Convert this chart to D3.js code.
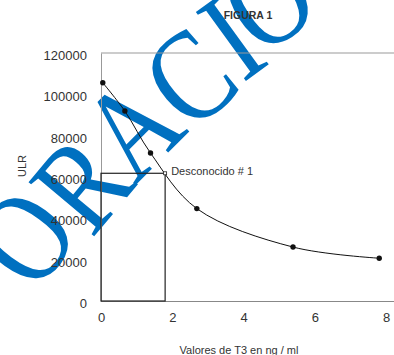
<!DOCTYPE html>
<html>
<head>
<meta charset="utf-8">
<script src="https://cdn.jsdelivr.net/npm/d3@7/dist/d3.min.js"></script>
<style>
  html, body { margin: 0; padding: 0; background: #fff; }
  svg { display: block; font-family: "Liberation Sans", Arial, sans-serif; }
</style>
</head>
<body>
<div id="chart"></div>
<script>
// datos
const tValues = [0.05, 0.67, 1.39, 2.69, 5.39, 7.81];       // T3 ng/ml
const ulrValues = [105600, 91900, 71600, 44700, 26100, 20700];
const unknownT = 1.8;
const unknownULR = 61800;
const unknownLabel = "Desconocido # 1";
const xTicks = [0, 2, 4, 6, 8];
const yTicks = [0, 20000, 40000, 60000, 80000, 100000, 120000];
const title = "FIGURA 1";
const xTitle = "Valores de T3 en ng / ml";
const yTitle = "ULR";

// marca de agua: letra, centro y giro
const wmLetters = ["O", "R", "A", "C", "I", "O"];
const wmPos = [[25, 238], [82, 184], [132, 128], [190, 78], [232, 38], [268, 0]];
const wmRot = [-54, -50, -45, -40, -36, -33];

const width = 394, height = 355;
const plot = { left: 101, top: 53, bottom: 301, right: 386 };

const svg = d3.select("#chart").append("svg")
  .attr("width", width)
  .attr("height", height);

svg.append("rect").attr("width", width).attr("height", height).attr("fill", "#fff");

// marca de agua (detras del grafico)
svg.append("g")
  .selectAll("text")
  .data(wmLetters)
  .enter().append("text")
  .attr("transform", (d, i) => `translate(${wmPos[i][0]},${wmPos[i][1]}) rotate(${wmRot[i]}) scale(0.83,1)`)
  .attr("text-anchor", "middle")
  .attr("dy", "0.33em")
  .attr("font-family", "'Liberation Serif', 'Times New Roman', serif")
  .attr("font-size", 130)
  .attr("fill", "#0070C0")
  .text(d => d);

const x = d3.scaleLinear().domain([0, 8]).range([plot.left, plot.right]);
const y = d3.scaleLinear().domain([0, 120000]).range([plot.bottom, plot.top]);

// marco
svg.append("line")
  .attr("x1", plot.left).attr("x2", width + 5)
  .attr("y1", plot.top).attr("y2", plot.top)
  .attr("stroke", "#999").attr("stroke-width", 1);

const yAxis = svg.append("g")
  .attr("transform", `translate(${plot.left},0)`)
  .call(d3.axisLeft(y).tickValues(yTicks).tickSize(0).tickPadding(14).tickFormat(d3.format("d")));
yAxis.select(".domain").attr("stroke", "#999");
yAxis.selectAll("text").attr("font-size", 13).attr("fill", "#333").attr("dy", "0.5em")
  .attr("font-family", "'Liberation Sans', Arial, sans-serif");

const xAxis = svg.append("g")
  .attr("transform", `translate(0,${plot.bottom})`)
  .call(d3.axisBottom(x).tickValues(xTicks).tickSize(0).tickPadding(12).tickFormat(d3.format("d")));
xAxis.select(".domain").attr("stroke", "#888").attr("d", `M${plot.left},0.5H${width + 5}`);
xAxis.selectAll("text").attr("font-size", 13).attr("fill", "#333")
  .attr("font-family", "'Liberation Sans', Arial, sans-serif");

// rectangulo del desconocido
svg.append("rect")
  .attr("x", x(0))
  .attr("y", y(unknownULR))
  .attr("width", x(unknownT) - x(0))
  .attr("height", y(0) - y(unknownULR))
  .attr("fill", "none")
  .attr("stroke", "#222")
  .attr("stroke-width", 1.2);

// curva suavizada
const line = d3.line()
  .x((d, i) => x(tValues[i]))
  .y(d => y(d))
  .curve(d3.curveCatmullRom);

svg.append("path")
  .datum(ulrValues)
  .attr("d", line)
  .attr("fill", "none")
  .attr("stroke", "#111")
  .attr("stroke-width", 1);

svg.selectAll(".pt")
  .data(ulrValues)
  .enter().append("circle")
  .attr("class", "pt")
  .attr("cx", (d, i) => x(tValues[i]))
  .attr("cy", d => y(d))
  .attr("r", 2.7)
  .attr("fill", "#111");

svg.append("rect")
  .attr("x", x(unknownT) - 1.5)
  .attr("y", y(unknownULR) - 1.5)
  .attr("width", 3).attr("height", 3)
  .attr("fill", "#fff").attr("stroke", "#222").attr("stroke-width", 0.8);

svg.append("text")
  .attr("x", x(unknownT) + 6)
  .attr("y", y(unknownULR))
  .attr("dy", "0.14em")
  .attr("font-size", 11)
  .attr("fill", "#333")
  .text(unknownLabel);

// titulos
svg.append("text")
  .attr("x", 248).attr("y", 19)
  .attr("text-anchor", "middle")
  .attr("font-size", 10.5).attr("font-weight", "bold")
  .attr("fill", "#333")
  .text(title);

svg.append("text")
  .attr("x", 239).attr("y", 354)
  .attr("text-anchor", "middle")
  .attr("font-size", 11)
  .attr("fill", "#333")
  .text(xTitle);

svg.append("text")
  .attr("transform", "translate(26,166) rotate(-90)")
  .attr("text-anchor", "middle")
  .attr("font-size", 11)
  .attr("fill", "#333")
  .text(yTitle);
</script>
</body>
</html>
